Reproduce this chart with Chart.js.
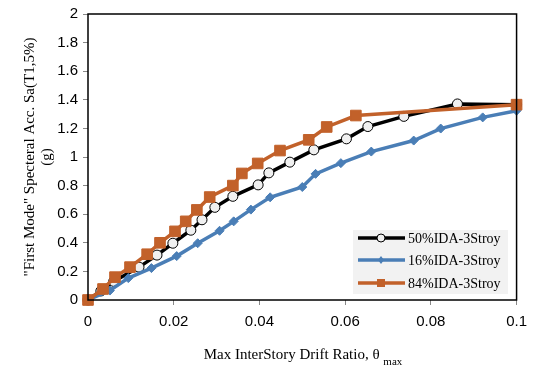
<!DOCTYPE html>
<html lang="en">
<head>
  <meta charset="UTF-8" />
  <title>IDA curves - 3 storey</title>
  <style>
    body { margin: 0; background: #fff; }
    #wrap { width: 535px; height: 374px; }
  </style>
</head>
<body>
  <div id="wrap"><canvas id="grafico" width="535" height="374"></canvas></div>

  <script src="https://cdn.jsdelivr.net/npm/chart.js"></script>
  <script>
    // drift ratio / Sa values
    const drift50 = [0, 0.003, 0.006, 0.0119, 0.0161, 0.0198, 0.024, 0.0266, 0.0296, 0.0338, 0.0397, 0.0422, 0.0471, 0.0527, 0.0603, 0.0653, 0.0737, 0.0862, 0.1];
    const sa50    = [0, 0.063, 0.13, 0.23, 0.314, 0.397, 0.488, 0.561, 0.648, 0.725, 0.805, 0.889, 0.964, 1.05, 1.127, 1.213, 1.284, 1.371, 1.366];

    const drift16 = [0, 0.0051, 0.0094, 0.0148, 0.0207, 0.0256, 0.0307, 0.034, 0.038, 0.0425, 0.05, 0.0531, 0.059, 0.0661, 0.076, 0.0823, 0.0921, 0.1];
    const sa16    = [0, 0.066, 0.153, 0.223, 0.307, 0.397, 0.484, 0.55, 0.632, 0.718, 0.79, 0.882, 0.957, 1.038, 1.115, 1.199, 1.277, 1.324];

    const drift84 = [0, 0.0035, 0.0063, 0.0098, 0.0138, 0.0168, 0.0203, 0.0228, 0.0254, 0.0284, 0.0338, 0.0359, 0.0396, 0.0448, 0.0515, 0.0557, 0.0625, 0.1];
    const sa84    = [0, 0.077, 0.16, 0.23, 0.32, 0.40, 0.48, 0.55, 0.63, 0.72, 0.80, 0.885, 0.955, 1.045, 1.12, 1.21, 1.29, 1.366];

    const nomes = ['50%IDA-3Stroy', '16%IDA-3Stroy', '84%IDA-3Stroy'];
    const xTicks = [0, 0.02, 0.04, 0.06, 0.08, 0.1];
    const yTicks = [0, 0.2, 0.4, 0.6, 0.8, 1, 1.2, 1.4, 1.6, 1.8, 2];

    const tituloX = 'Max InterStory Drift Ratio, θ';
    const tituloXSub = 'max';
    const tituloY = ['"First Mode" Specteral Acc. Sa(T1,5%)', '(g)'];

    const pares = (xs, ys) => xs.map((x, i) => ({ x: x, y: ys[i] }));

    const serif = '"Liberation Serif", "DejaVu Serif", serif';

    // frame, axis titles and the legend box
    const extras = {
      id: 'extras',
      afterDraw(chart) {
        const ctx = chart.ctx;
        const a = chart.chartArea;
        ctx.save();
        ctx.strokeStyle = '#000';
        ctx.lineWidth = 1.5;
        ctx.strokeRect(a.left, a.top, a.right - a.left, a.bottom - a.top);

        // x title with subscript
        ctx.fillStyle = '#000';
        ctx.textBaseline = 'alphabetic';
        ctx.font = '15px ' + serif;
        const w1 = ctx.measureText(tituloX + ' ').width;
        ctx.font = '11px ' + serif;
        const w2 = ctx.measureText(tituloXSub).width;
        const x0 = 303 - (w1 + w2) / 2;
        ctx.font = '15px ' + serif;
        ctx.textAlign = 'left';
        ctx.fillText(tituloX + ' ', x0, 359);
        ctx.font = '11px ' + serif;
        ctx.fillText(tituloXSub, x0 + w1, 365);

        // y title, two lines rotated
        ctx.save();
        ctx.translate(30, 157);
        ctx.rotate(-Math.PI / 2);
        ctx.textAlign = 'center';
        ctx.textBaseline = 'middle';
        ctx.font = '15px ' + serif;
        ctx.fillText(tituloY[0], 0, 0);
        ctx.fillText(tituloY[1], 0, 17);
        ctx.restore();

        // legend
        ctx.fillStyle = '#f2f2f2';
        ctx.fillRect(353, 230, 155, 64);
        const ys = [238, 260, 283];
        chart.data.datasets.forEach((ds, i) => {
          const y = ys[i];
          ctx.strokeStyle = ds.borderColor;
          ctx.lineWidth = 3.5;
          ctx.beginPath();
          ctx.moveTo(358, y);
          ctx.lineTo(405, y);
          ctx.stroke();
          ctx.fillStyle = ds.pointBackgroundColor;
          ctx.strokeStyle = ds.pointBorderColor;
          ctx.lineWidth = 1;
          if (ds.pointStyle === 'circle') {
            ctx.beginPath();
            ctx.arc(381, y, 4, 0, Math.PI * 2);
            ctx.fill();
            ctx.stroke();
          } else if (ds.pointStyle === 'rect') {
            ctx.fillRect(377, y - 4, 8, 8);
          } else {
            ctx.beginPath();
            ctx.moveTo(381, y - 4);
            ctx.lineTo(384, y);
            ctx.lineTo(381, y + 4);
            ctx.lineTo(378, y);
            ctx.closePath();
            ctx.fill();
          }
          ctx.fillStyle = '#000';
          ctx.font = '14px ' + serif;
          ctx.textAlign = 'left';
          ctx.textBaseline = 'middle';
          ctx.fillText(ds.label, 408, y + 1);
        });
        ctx.restore();
      }
    };

    new Chart(document.getElementById('grafico'), {
      type: 'scatter',
      data: {
        datasets: [
          {
            label: nomes[0], data: pares(drift50, sa50), showLine: true,
            borderColor: '#000', borderWidth: 3.5,
            pointStyle: 'circle', pointRadius: 5, pointBackgroundColor: '#f0f0f0',
            pointBorderColor: '#000', pointBorderWidth: 1, order: 3
          },
          {
            label: nomes[1], data: pares(drift16, sa16), showLine: true,
            borderColor: '#4a7eb6', borderWidth: 3.5,
            pointStyle: 'rectRot', pointRadius: 4.5, pointBackgroundColor: '#4a7eb6',
            pointBorderColor: '#4a7eb6', pointBorderWidth: 1, order: 2
          },
          {
            label: nomes[2], data: pares(drift84, sa84), showLine: true,
            borderColor: '#c2612a', borderWidth: 3.5,
            pointStyle: 'rect', pointRadius: 7.5, pointBackgroundColor: '#c2612a',
            pointBorderColor: '#c2612a', pointBorderWidth: 1, order: 1
          }
        ]
      },
      options: {
        responsive: false,
        animation: false,
        clip: false,
        layout: { padding: { top: 13, right: 18, left: 0, bottom: 0 } },
        plugins: { legend: { display: false }, tooltip: { enabled: false } },
        scales: {
          x: {
            type: 'linear', min: 0, max: 0.1,
            afterFit: s => { s.height = 74; },
            afterBuildTicks: s => { s.ticks = xTicks.map(v => ({ value: v })); },
            grid: { drawOnChartArea: false, tickLength: 5, color: '#888' },
            border: { display: false },
            ticks: {
              color: '#000', padding: 8,
              font: { family: '"Liberation Sans", Arial, sans-serif', size: 15 },
              callback: v => String(+v.toFixed(2))
            }
          },
          y: {
            min: 0, max: 2,
            afterFit: s => { s.width = 88; },
            afterBuildTicks: s => { s.ticks = yTicks.map(v => ({ value: v })); },
            grid: { drawOnChartArea: false, tickLength: 5, color: '#888' },
            border: { display: false },
            ticks: {
              color: '#000', padding: 5,
              font: { family: '"Liberation Sans", Arial, sans-serif', size: 15 },
              callback: v => String(+v.toFixed(1))
            }
          }
        }
      },
      plugins: [extras]
    });
  </script>
</body>
</html>
